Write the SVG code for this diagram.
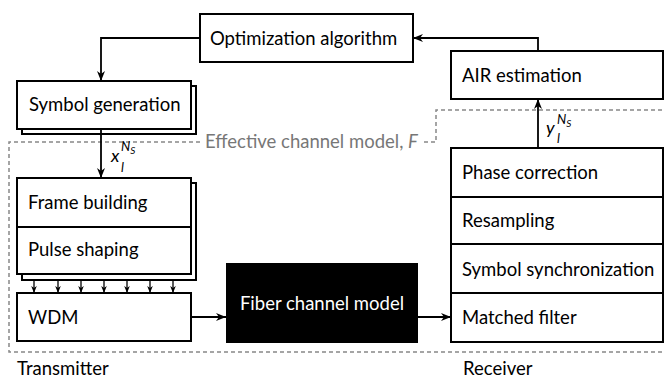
<svg xmlns="http://www.w3.org/2000/svg" width="665" height="379" viewBox="0 0 665 379">
<defs>
<marker id="ah" viewBox="0 0 10 10" refX="10" refY="5" markerWidth="10" markerHeight="10" markerUnits="userSpaceOnUse" orient="auto">
<path d="M0,1 L10,5 L0,9 L3,5 Z" fill="#000"/>
</marker>
<marker id="ahs" viewBox="0 0 10 10" refX="10" refY="5" markerWidth="7" markerHeight="7" markerUnits="userSpaceOnUse" orient="auto">
<path d="M0,1 L10,5 L0,9 L3,5 Z" fill="#000"/>
</marker>
<style>
.box{fill:#fff;stroke:#000;stroke-width:2}
.t{font-family:Lato,"Liberation Sans",sans-serif;font-size:18.5px;fill:#000}
.m{font-family:Lato,"Liberation Sans",sans-serif;font-style:italic;fill:#000}
.c{fill:none;stroke:#000;stroke-width:1.8}
.cs{fill:none;stroke:#000;stroke-width:1.3}
.d{fill:none;stroke:#888;stroke-width:1.5;stroke-dasharray:4,3}
</style>
</defs>

<g id="effective-channel">
<path class="d" d="M200,142 H9 V352 H663"/>
<path class="d" d="M424,142 H436 V110 H663"/>
<text x="205" y="148" class="t" style="fill:#777">Effective channel model, <tspan font-style="italic">F</tspan></text>
</g>

<g id="optimization">
<rect class="box" x="200" y="14" width="213" height="48"/>
<text x="210" y="45" class="t">Optimization algorithm</text>
</g>

<g id="symbol-generation">
<rect class="box" x="22" y="86" width="174" height="48"/>
<rect class="box" x="17" y="81" width="174" height="48"/>
<text x="29" y="111" class="t">Symbol generation</text>
</g>

<g id="tx-stack">
<rect class="box" x="22" y="183" width="174" height="97"/>
<rect class="box" x="17" y="178" width="174" height="49"/>
<text x="28" y="209" class="t">Frame building</text>
<rect class="box" x="17" y="227" width="174" height="47"/>
<text x="28" y="256" class="t">Pulse shaping</text>
</g>

<g id="wdm">
<rect class="box" x="17" y="293" width="174" height="48"/>
<text x="28" y="324" class="t">WDM</text>
</g>

<g id="fiber">
<rect x="226" y="263" width="192" height="80" fill="#000"/>
<text x="322" y="310" class="t" text-anchor="middle" style="fill:#fff">Fiber channel model</text>
</g>

<g id="air">
<rect class="box" x="451" y="51" width="212" height="48"/>
<text x="462" y="82" class="t">AIR estimation</text>
</g>

<g id="rx-stack">
<rect class="box" x="451" y="148" width="212" height="49"/>
<text x="462" y="179" class="t">Phase correction</text>
<rect class="box" x="451" y="197" width="212" height="47"/>
<text x="462" y="227" class="t">Resampling</text>
<rect class="box" x="451" y="244" width="212" height="49"/>
<text x="462" y="276" class="t">Symbol synchronization</text>
<rect class="box" x="451" y="293" width="212" height="49"/>
<text x="462" y="324" class="t">Matched filter</text>
</g>

<g id="connectors">
<path class="c" d="M538,51 V38 H413" marker-end="url(#ah)"/>
<path class="c" d="M200,38 H101 V81" marker-end="url(#ah)"/>
<path class="c" d="M101,129 V178" marker-end="url(#ah)"/>
<path class="c" d="M538,148 V99" marker-end="url(#ah)"/>
<path class="c" d="M191,317 H226" marker-end="url(#ah)"/>
<path class="c" d="M418,317 H451" marker-end="url(#ah)"/>
<path class="cs" d="M34,280 V293" marker-end="url(#ahs)"/>
<path class="cs" d="M58,280 V293" marker-end="url(#ahs)"/>
<path class="cs" d="M81,280 V293" marker-end="url(#ahs)"/>
<path class="cs" d="M104,280 V293" marker-end="url(#ahs)"/>
<path class="cs" d="M127,280 V293" marker-end="url(#ahs)"/>
<path class="cs" d="M150,280 V293" marker-end="url(#ahs)"/>
<path class="cs" d="M173,280 V293" marker-end="url(#ahs)"/>
</g>

<g id="labels">
<text x="111" y="162" class="m" font-size="18">x</text>
<text x="121" y="151" class="m" font-size="13">N<tspan font-size="10" dy="3">S</tspan></text>
<text x="121" y="172" class="m" font-size="13">l</text>
<text x="546" y="134" class="m" font-size="18">y</text>
<text x="557" y="124" class="m" font-size="13">N<tspan font-size="10" dy="3">S</tspan></text>
<text x="557" y="143" class="m" font-size="13">l</text>
<text x="17" y="375" class="t">Transmitter</text>
<text x="463" y="375" class="t">Receiver</text>
</g>
</svg>
